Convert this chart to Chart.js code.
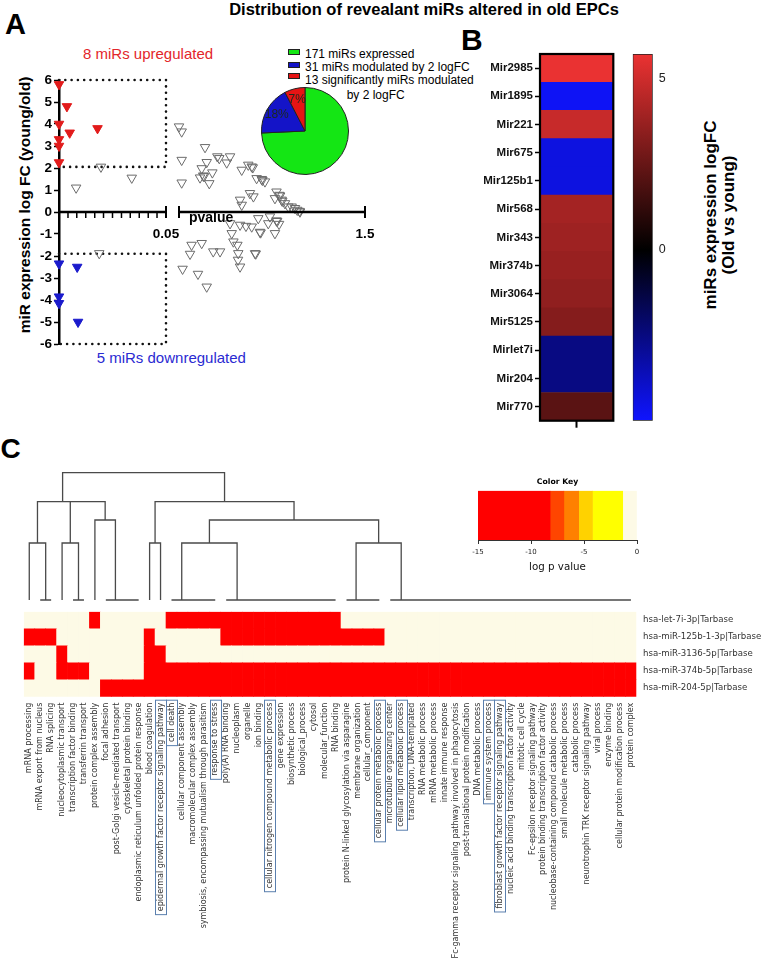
<!DOCTYPE html>
<html>
<head>
<meta charset="utf-8">
<title>Distribution of revealant miRs altered in old EPCs</title>
<script src="https://cdn.jsdelivr.net/npm/chart.js@4.4.1/dist/chart.umd.min.js"></script>
<style>
  html, body { margin: 0; padding: 0; background: #fff; }
  #page { position: relative; width: 764px; height: 973px; overflow: hidden;
          font-family: "Liberation Sans", Arial, sans-serif; color: #000; }
  #page canvas { position: absolute; }
  .t { position: absolute; white-space: nowrap; line-height: 1; }
  .rot { transform: translate(-50%, -50%) rotate(-90deg); text-align: center; }
  .mk { position: absolute; width: 10px; height: 4px; border: 1px solid #222; }
</style>
</head>
<body>
<div id="page">
  <div class="t" style="left:0;width:848px;top:1px;text-align:center;font-weight:bold;font-size:16.5px">Distribution of revealant miRs altered in old EPCs</div>
  <div class="t" style="left:5px;top:9.5px;font-weight:bold;font-size:29px">A</div>
  <div class="t" style="left:461px;top:24.5px;font-weight:bold;font-size:30px">B</div>
  <div class="t" style="left:0.5px;top:434.5px;font-weight:bold;font-size:28px">C</div>

  <div class="t" style="left:83px;top:46.3px;font-size:15px;color:#e3262b">8 miRs upregulated</div>
  <div class="t" style="left:96.7px;top:349.5px;font-size:15px;color:#2a2ad2">5 miRs downregulated</div>
  <div class="t rot" style="left:25px;top:205px;font-weight:bold;font-size:15.5px">miR expression log FC (young/old)</div>

  <!-- pie legend -->
  <div class="mk" style="left:288px;top:49px;background:#14e614"></div>
  <div class="t" style="left:305px;top:48.4px;font-size:12px">171 miRs expressed</div>
  <div class="mk" style="left:288px;top:62px;background:#1414c8"></div>
  <div class="t" style="left:305px;top:61.1px;font-size:12px">31 miRs modulated by 2 logFC</div>
  <div class="mk" style="left:288px;top:73px;background:#e61414"></div>
  <div class="t" style="left:305px;top:74px;font-size:12px">13 significantly miRs modulated</div>
  <div class="t" style="left:346.7px;top:89px;font-size:12px">by 2 logFC</div>

  <div class="t rot" style="left:719.5px;top:215px;font-weight:bold;font-size:17px;line-height:18px">miRs expression logFC<br>(Old vs young)</div>

  <canvas id="cvA1" width="180" height="300" style="left:0;top:60px"></canvas>
  <canvas id="cvA2" width="210" height="300" style="left:170px;top:60px"></canvas>
  <canvas id="cvPie" width="100" height="100" style="left:255px;top:81px"></canvas>
  <canvas id="cvB" width="150" height="400" style="left:470px;top:40px"></canvas>
  <canvas id="cvBar" width="60" height="400" style="left:625px;top:40px"></canvas>
  <canvas id="cvDen" width="764" height="145" style="left:0;top:460px"></canvas>
  <canvas id="cvHeat" width="764" height="373" style="left:0;top:600px"></canvas>
  <canvas id="cvKey" width="180" height="110" style="left:470px;top:470px"></canvas>
</div>
<script>
// ---------- Panel A: p value vs log FC ----------
const pCut = 0.05;
const fcUp = 2.05, fcDown = -1.9, fcLim = 6;
const pTicksLeft = [0, 0.0042, 0.0083, 0.0125, 0.0167, 0.0208, 0.025, 0.0292, 0.0333, 0.0375, 0.0417, 0.0458, 0.05];
const pTicksRight = [0.05, 1.5];

const upP  = [0, 0.0037, 0, 0.005, 0.018, 0, 0, 0];
const upFC = [5.8, 4.8, 4.0, 3.6, 3.8, 3.3, 3.0, 2.25];
const downP  = [0, 0.0085, 0, 0, 0.0089];
const downFC = [-2.35, -2.5, -3.85, -4.15, -5.0];

const nsP = [0.0196, 0.034, 0.008, 0.0188,
  0.05, 0.071, 0.253, 0.071, 0.349, 0.364, 0.448, 0.266, 0.422, 0.227, 0.31, 0.239, 0.245, 0.214, 0.286, 0.071,
  0.539, 0.59, 0.617, 0.625, 0.655, 0.695, 0.70, 0.72, 0.603, 0.63, 0.526, 0.539, 0.81, 0.832, 0.838, 0.85,
  0.855, 0.798, 0.876, 0.902, 0.928, 0.954, 0.972, 0.993, 0.99,
  0.668, 0.759, 0.81, 0.815, 0.83, 0.448, 0.526, 0.572, 0.617, 0.681, 0.686, 0.746, 0.798, 0.461, 0.474,
  0.505, 0.227, 0.317, 0.37, 0.512, 0.643, 0.648, 0.136, 0.148, 0.078, 0.198, 0.266, 0.51, 0.526];
const nsFC = [2.05, 1.55, 1.1, -1.88,
  3.88, 3.65, 2.94, 2.36, 2.52, 2.44, 2.52, 2.26, 2.24, 1.98, 1.79, 1.65, 1.62, 1.56, 1.3, 1.33,
  1.91, 2.14, 2.06, 2.02, 1.53, 1.49, 1.45, 1.38, 0.85, 0.7, 0.55, 0.32, 0.92, 0.77, 0.74, 0.55,
  0.5, 0.62, 0.39, 0.24, 0.24, 0.17, 0.09, 0.01, 0.04,
  -0.29, -0.21, -0.39, -0.42, -0.55, -0.52, -0.59, -0.64, -0.67, -0.91, -0.94, -0.52, -0.97, -0.97, -1.35,
  -1.5, -1.42, -1.8, -1.8, -1.88, -1.88, -1.9, -1.91, -1.5, -2.59, -2.82, -3.4, -2.18, -2.49];

// pie: expressed miRs split by modulation
const pieValues = [127, 31, 13];
const totalExpressed = 171;
const pieColors = ['#14e614', '#1414c8', '#e61414'];

// ---------- Panel B: heatmap of modulated miRs ----------
const mirNames = ['Mir2985', 'Mir1895', 'Mir221', 'Mir675', 'Mir125b1', 'Mir568', 'Mir343',
  'Mir374b', 'Mir3064', 'Mir5125', 'Mirlet7i', 'Mir204', 'Mir770'];
const mirLogFC = [5.7, -4.8, 4.85, -4.4, -4.4, 4.0, 3.85, 3.7, 3.5, 3.25, -2.55, -2.55, 2.2];
const fcScaleMin = -5, fcScaleMax = 5.73;
const fcBarTicks = [0, 5];

// ---------- Panel C: GO enrichment heatmap ----------
const goTerms = ['mRNA processing', 'mRNA export from nucleus', 'RNA splicing', 'nucleocytoplasmic transport',
  'transcription factor binding', 'transferrin transport', 'protein complex assembly', 'focal adhesion',
  'post-Golgi vesicle-mediated transport', 'cytoskeletal protein binding',
  'endoplasmic reticulum unfolded protein response', 'blood coagulation',
  'epidermal growth factor receptor signaling pathway', 'cell death', 'cellular component assembly',
  'macromolecular complex assembly', 'symbiosis, encompassing mutualism through parasitism',
  'response to stress', 'poly(A) RNA binding', 'nucleoplasm', 'organelle', 'ion binding',
  'cellular nitrogen compound metabolic process', 'gene expression', 'biosynthetic process',
  'biological_process', 'cytosol', 'molecular_function', 'RNA binding',
  'protein N-linked glycosylation via asparagine', 'membrane organization', 'cellular_component',
  'cellular protein metabolic process', 'microtubule organizing center', 'cellular lipid metabolic process',
  'transcription, DNA-templated', 'RNA metabolic process', 'mRNA metabolic process', 'innate immune response',
  'Fc-gamma receptor signaling pathway involved in phagocytosis', 'post-translational protein modification',
  'DNA metabolic process', 'immune system process', 'fibroblast growth factor receptor signaling pathway',
  'nucleic acid binding transcription factor activity', 'mitotic cell cycle',
  'Fc-epsilon receptor signaling pathway', 'protein binding transcription factor activity',
  'nucleobase-containing compound catabolic process', 'small molecule metabolic process', 'catabolic process',
  'neurotrophin TRK receptor signaling pathway', 'viral process', 'enzyme binding',
  'cellular protein modification process', 'protein complex'];
const boxedTerms = [12, 13, 17, 22, 32, 34, 42, 43];
const goMirs = ['hsa-let-7i-3p|Tarbase', 'hsa-miR-125b-1-3p|Tarbase', 'hsa-miR-3136-5p|Tarbase',
  'hsa-miR-374b-5p|Tarbase', 'hsa-miR-204-5p|Tarbase'];
// 1 = significant term (log p below -8), 0 = not significant
const goHits = [
  '000000 1 000000 1111111111111111 000000000000000000000000000',
  '111 00000000 1 000000 111111111111111 00000000000000000000000',
  '000 1 0000000 11 0000000000000000000000000000000000000000000',
  '1 00 111 00000 111111111111111111111111111111111111111111111',
  '0000000 1111111111111111111111111111111111111111111111111'
];
const sigLogP = -15, nsLogP = 0;

const keyBreaks = [-15, -8.2, -6.9, -5.5, -4.2, -1.35, 0];
const keyColors = ['#ff0000', '#ff4500', '#ff8000', '#ffd200', '#ffff00', '#fdfae6'];

function seq(a, b) { const r = []; for (let i = a; i <= b; i++) r.push(i); return r; }
// column dendrogram: arrays are groups merged at height 0
const dendro = {h: 1.273, kids: [
  {h: 0.983, kids: [
    {h: 0.57, kids: [[0], [1, 2]]},
    {h: 0.983, kids: [
      {h: 0.57, kids: [[3], [4, 5]]},
      {h: 0.80, kids: [[6], seq(7, 10)]}]}]},
  {h: 0.983, kids: [
    {h: 0.57, kids: [[11], [12]]},
    {h: 0.80, kids: [
      {h: 0.57, kids: [seq(13, 17), seq(18, 28)]},
      {h: 0.57, kids: [seq(29, 32), seq(33, 55)]}]}]}]};

// ---------- drawing ----------
Chart.defaults.font.family = '"Liberation Sans", Arial, sans-serif';
Chart.defaults.color = '#000';
Chart.defaults.animation = false;
Chart.defaults.events = [];
Chart.defaults.plugins.legend.display = false;
Chart.defaults.plugins.tooltip.enabled = false;

const pts = (xs, ys) => xs.map((x, i) => ({x: x, y: ys[i]}));
const nsPts = pts(nsP, nsFC);

function tri(data, fill, line) {
  return { data: data, pointStyle: 'triangle', pointRotation: 180, pointRadius: 5.5,
    pointBackgroundColor: fill, pointBorderColor: line, pointBorderWidth: 1, showLine: false, clip: false };
}
function dotted(data) {
  return { type: 'line', data: data, showLine: true, pointRadius: 0, borderColor: '#111', borderWidth: 2.6,
    borderDash: [0, 6.3], borderCapStyle: 'round', fill: false, tension: 0, clip: false };
}

// broken x axis: line, hanging minor ticks and end caps drawn at y = 0
function brokenAxis(ticks, caps, drawLine, withTitle) {
  return { id: 'brokenAxis', afterDraw(chart) {
    const ctx = chart.ctx, xs = chart.scales.x, y0 = chart.scales.y.getPixelForValue(0);
    ctx.save();
    ctx.strokeStyle = '#000';
    if (drawLine) {
      ctx.lineWidth = 2.5;
      ctx.beginPath(); ctx.moveTo(xs.left, y0); ctx.lineTo(xs.right, y0); ctx.stroke();
    }
    ctx.lineWidth = 1.5;
    ticks.forEach(v => {
      const x = xs.getPixelForValue(v);
      ctx.beginPath(); ctx.moveTo(x, y0); ctx.lineTo(x, y0 + 6); ctx.stroke();
    });
    ctx.lineWidth = 2;
    caps.forEach(v => {
      const x = xs.getPixelForValue(v);
      ctx.beginPath(); ctx.moveTo(x, y0 - 6); ctx.lineTo(x, y0 + 6); ctx.stroke();
    });
    if (withTitle) {
      ctx.font = 'bold 14px "Liberation Sans", Arial';
      ctx.fillStyle = '#000'; ctx.textBaseline = 'alphabetic';
      ctx.fillText('pvalue', xs.getPixelForValue(pCut) + 10, y0 + 10);
    }
    ctx.restore();
  }};
}

const fcAxis = () => ({ min: -fcLim, max: fcLim,
  afterFit: s => { s.width = 59; },
  ticks: { stepSize: 1, font: { weight: 'bold', size: 13.5 }, color: '#000', padding: 2 },
  grid: { drawOnChartArea: false, tickLength: 5, tickWidth: 1.5, tickColor: '#000' },
  border: { color: '#000', width: 2.5 } });

const pAxis = (lo, hi, ticks, label) => ({ type: 'linear', min: lo, max: hi, position: { y: 0 },
  afterFit: s => { s.height = 0; s.paddingLeft = 0; s.paddingRight = 0; },
  afterBuildTicks: s => { s.ticks = ticks.map(v => ({ value: v })); },
  ticks: { autoSkip: false, maxRotation: 0, padding: 14, font: { weight: 'bold', size: 13.5 }, color: '#000',
    callback: v => (v === label ? String(v) : '') },
  grid: { display: false, drawTicks: false },
  border: { display: false } });

new Chart(document.getElementById('cvA1'), {
  type: 'scatter',
  data: { datasets: [
    tri(pts(upP, upFC), '#e21b1b', '#e21b1b'),
    tri(pts(downP, downFC), '#1a1acc', '#1a1acc'),
    tri(nsPts.filter(d => d.x < pCut), 'rgba(255,255,255,0)', '#6b6b6b'),
    dotted([{x: 0, y: fcLim}, {x: pCut, y: fcLim}, {x: pCut, y: fcUp}, {x: 0, y: fcUp}]),
    dotted([{x: 0, y: fcDown}, {x: pCut, y: fcDown}, {x: pCut, y: -fcLim}, {x: 0, y: -fcLim}])
  ] },
  options: {
    responsive: false,
    layout: { padding: { left: 0, right: 14, top: 20, bottom: 16 } },
    scales: { x: pAxis(0, pCut, pTicksLeft, pCut), y: fcAxis() }
  },
  plugins: [brokenAxis(pTicksLeft, [pCut], true, false)]
});

new Chart(document.getElementById('cvA2'), {
  type: 'scatter',
  data: { datasets: [ tri(nsPts.filter(d => d.x >= pCut), 'rgba(255,255,255,0)', '#6b6b6b') ] },
  options: {
    responsive: false,
    layout: { padding: { left: 9, right: 15, top: 20, bottom: 16 } },
    scales: {
      x: pAxis(pTicksRight[0], pTicksRight[1], pTicksRight, pTicksRight[1]),
      y: { display: false, min: -fcLim, max: fcLim }
    }
  },
  plugins: [brokenAxis([], pTicksRight, true, true)]
});

new Chart(document.getElementById('cvPie'), {
  type: 'pie',
  data: { labels: ['expressed', 'modulated', 'significant'],
    datasets: [{ data: pieValues, backgroundColor: pieColors, borderColor: '#222', borderWidth: 1 }] },
  options: { responsive: false, layout: { padding: 6 } },
  plugins: [{ id: 'pct', afterDatasetsDraw(chart) {
    const ctx = chart.ctx;
    ctx.save();
    ctx.font = '12px "Liberation Sans", Arial';
    ctx.fillStyle = '#1c2a1c'; ctx.textAlign = 'center'; ctx.textBaseline = 'middle';
    chart.getDatasetMeta(0).data.forEach((arc, i) => {
      if (i === 0) return;
      const mid = (arc.startAngle + arc.endAngle) / 2, r = arc.outerRadius * 0.75;
      ctx.fillText(Math.floor(pieValues[i] / totalExpressed * 100) + '%',
        arc.x + Math.cos(mid) * r, arc.y + Math.sin(mid) * r);
    });
    ctx.restore();
  } }]
});

// ---------- B ----------
function fcColor(v) {
  if (v >= 0) {
    const t = Math.min(v / fcScaleMax, 1);
    return `rgb(${Math.round(235 * t)},${Math.round(50 * t)},${Math.round(50 * t)})`;
  }
  const t = Math.min(v / fcScaleMin, 1);
  return `rgb(${Math.round(15 * t)},${Math.round(20 * t)},${Math.round(255 * t)})`;
}
const frame = { id: 'frame', afterDraw(chart) {
  const ctx = chart.ctx, a = chart.chartArea;
  ctx.save(); ctx.strokeStyle = '#000'; ctx.lineWidth = 2.2;
  ctx.strokeRect(a.left, a.top, a.right - a.left, a.bottom - a.top);
  ctx.restore();
} };

new Chart(document.getElementById('cvB'), {
  type: 'bar',
  data: { labels: mirNames, datasets: [{ data: mirNames.map(() => 1), backgroundColor: mirLogFC.map(fcColor),
    barPercentage: 1, categoryPercentage: 1, borderWidth: 0 }] },
  options: {
    indexAxis: 'y', responsive: false,
    layout: { padding: { left: 0, right: 6.7, top: 14, bottom: 0 } },
    scales: {
      x: { min: 0, max: 1, afterFit: s => { s.height = 19.3; },
        afterBuildTicks: s => { s.ticks = [{ value: 0.5 }]; },
        ticks: { callback: () => '', padding: 0 },
        grid: { drawOnChartArea: false, tickLength: 7, tickWidth: 2, tickColor: '#000' },
        border: { display: false } },
      y: { afterFit: s => { s.width = 70; },
        ticks: { autoSkip: false, font: { weight: 'bold', size: 11.5 }, color: '#111', padding: 2 },
        grid: { offset: false, drawOnChartArea: false, tickLength: 5, tickWidth: 1.5, tickColor: '#000' },
        border: { display: false } }
    }
  },
  plugins: [frame]
});

function barGradient(chart) {
  const a = chart.chartArea;
  if (!a) return '#000';
  const g = chart.ctx.createLinearGradient(0, a.bottom, 0, a.top);
  g.addColorStop(0, fcColor(fcScaleMin));
  g.addColorStop((0 - fcScaleMin) / (fcScaleMax - fcScaleMin), fcColor(0));
  g.addColorStop(1, fcColor(fcScaleMax));
  return g;
}
new Chart(document.getElementById('cvBar'), {
  type: 'bar',
  data: { labels: ['logFC'], datasets: [{ data: [[fcScaleMin, fcScaleMax]], backgroundColor: c => barGradient(c.chart),
    borderColor: '#222', borderWidth: 1, borderSkipped: false, barPercentage: 1, categoryPercentage: 1 }] },
  options: {
    responsive: false,
    layout: { padding: { left: 7.7, right: 0, top: 14, bottom: 19.3 } },
    scales: {
      x: { display: false },
      y: { position: 'right', min: fcScaleMin, max: fcScaleMax, afterFit: s => { s.width = 32.3; },
        afterBuildTicks: s => { s.ticks = fcBarTicks.map(v => ({ value: v })); },
        ticks: { font: { size: 12.5 }, color: '#222', padding: 6 },
        grid: { drawOnChartArea: false, drawTicks: false }, border: { display: false } }
    }
  }
});

// ---------- C ----------
function keyColor(v) {
  for (let i = 0; i < keyColors.length; i++) if (v < keyBreaks[i + 1]) return keyColors[i];
  return keyColors[keyColors.length - 1];
}
const goRows = goHits.map(s => s.replace(/ /g, '').split('').map(c => (c === '1' ? sigLogP : nsLogP)));

function chainPos(g) {
  let x = g[g.length - 1];
  for (let i = g.length - 2; i >= 0; i--) x = (g[i] + x) / 2;
  return x;
}
function walk(node, out) {
  if (Array.isArray(node)) {
    if (node.length > 1) out.push([[node[0], 0], [node[node.length - 1], 0]]);
    return { x: chainPos(node), h: 0 };
  }
  const a = walk(node.kids[0], out), b = walk(node.kids[1], out);
  out.push([[a.x, a.h], [a.x, node.h], [b.x, node.h], [b.x, b.h]]);
  return { x: (a.x + b.x) / 2, h: node.h };
}
const segs = [];
walk(dendro, segs);
const dendroPts = [];
segs.forEach(s => { s.forEach(p => dendroPts.push({ x: p[0], y: p[1] })); dendroPts.push({ x: NaN, y: NaN }); });

new Chart(document.getElementById('cvDen'), {
  type: 'scatter',
  data: { datasets: [{ data: dendroPts, showLine: true, pointRadius: 0, borderColor: '#4a4a4a', borderWidth: 1.3,
    spanGaps: false, clip: false, tension: 0 }] },
  options: {
    responsive: false,
    layout: { padding: { left: 23.8, right: 127.6, top: 10, bottom: 5 } },
    scales: { x: { display: false, min: -0.5, max: goTerms.length - 0.5 }, y: { display: false, min: 0, max: 1.3 } }
  }
});

const termFont = 8;
const termPad = 6;
const termBoxes = { id: 'termBoxes', afterDraw(chart) {
  const ctx = chart.ctx, a = chart.chartArea, xs = chart.scales.x;
  ctx.save();
  ctx.font = termFont + 'px "DejaVu Sans"';
  ctx.strokeStyle = '#5a7fae'; ctx.lineWidth = 1;
  boxedTerms.forEach(i => {
    const x = xs.getPixelForTick(i), w = ctx.measureText(goTerms[i]).width;
    ctx.strokeRect(Math.round(x - 5.5) + 0.5, a.bottom + termPad - 2.5, 11, w + 6);
  });
  ctx.restore();
} };

new Chart(document.getElementById('cvHeat'), {
  type: 'bar',
  data: { labels: goTerms, datasets: goRows.slice().reverse().map(row => ({
    data: row.map(() => 1), backgroundColor: row.map(keyColor),
    barPercentage: 1, categoryPercentage: 1, borderWidth: 0 })) },
  options: {
    responsive: false,
    layout: { padding: { left: 23.8, right: 0, top: 5, bottom: 0 } },
    scales: {
      x: { stacked: true, afterFit: s => { s.height = 276.3; s.paddingLeft = 0; s.paddingRight = 0; },
        ticks: { autoSkip: false, minRotation: 90, maxRotation: 90, padding: termPad,
          font: { family: 'DejaVu Sans', size: termFont }, color: '#333' },
        grid: { display: false, drawTicks: false }, border: { display: false } },
      y: { display: false, stacked: true, min: 0, max: goMirs.length },
      yr: { type: 'category', labels: goMirs, position: 'right', offset: true,
        afterFit: s => { s.width = 127.6; },
        ticks: { padding: 6.6, font: { family: 'DejaVu Sans', size: 8.6 }, color: '#333' },
        grid: { display: false, drawTicks: false }, border: { display: false } }
    }
  },
  plugins: [termBoxes]
});

new Chart(document.getElementById('cvKey'), {
  type: 'bar',
  data: { labels: ['key'], datasets: keyColors.map((c, i) => ({
    data: [[keyBreaks[i], keyBreaks[i + 1]]], backgroundColor: c, grouped: false,
    barPercentage: 1, categoryPercentage: 1, borderWidth: 0 })) },
  options: {
    indexAxis: 'y', responsive: false,
    layout: { padding: { left: 8, right: 13, top: 0, bottom: 0 } },
    plugins: { title: { display: true, text: 'Color Key', color: '#000',
      font: { family: 'DejaVu Sans', weight: 'bold', size: 7.7 }, padding: { top: 7.1, bottom: 4.4 } } },
    scales: {
      y: { display: false },
      x: { min: keyBreaks[0], max: keyBreaks[keyBreaks.length - 1],
        afterFit: s => { s.height = 40; s.paddingLeft = 0; s.paddingRight = 0; },
        ticks: { stepSize: 5, font: { family: 'DejaVu Sans', size: 7 }, color: '#222', padding: 4 },
        grid: { drawOnChartArea: false, tickLength: 4, color: '#333' },
        border: { display: true, color: '#333', width: 1 },
        title: { display: true, text: 'log p value', color: '#111',
          font: { family: 'DejaVu Sans', size: 10.3 }, padding: { top: 0, bottom: 6.8 } } }
    }
  }
});
</script>
</body>
</html>
